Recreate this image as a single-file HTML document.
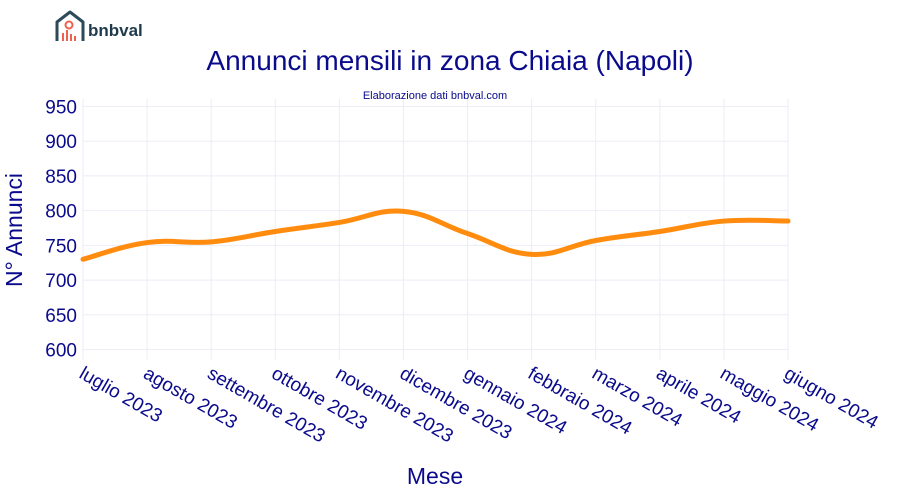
<!DOCTYPE html>
<html><head><meta charset="utf-8"><style>
body{margin:0;background:#fff;font-family:"Liberation Sans",Arial,sans-serif}
svg{display:block}
</style></head><body>
<svg id="chart" width="900" height="500" xmlns="http://www.w3.org/2000/svg">
<g>
<path d="M57 41 V22 L70 12 L83 22 V41" fill="none" stroke="#2d4a5a" stroke-width="3" stroke-linejoin="round"/>
<circle cx="69" cy="25" r="3.5" fill="none" stroke="#f0614d" stroke-width="2"/>
<rect x="62" y="33" width="2" height="8" fill="#f0614d"/><rect x="66" y="30" width="2" height="11" fill="#f0614d"/>
<rect x="70" y="34" width="2" height="7" fill="#f0614d"/><rect x="74" y="36" width="2" height="5" fill="#f0614d"/>
<text x="88" y="36" font-size="17" font-weight="bold" fill="#1f3a4a">bnbval</text>
</g>
<text x="450" y="70" text-anchor="middle" font-size="28" fill="#0a0a8c">Annunci mensili in zona Chiaia (Napoli)</text>
<text x="435" y="99" text-anchor="middle" font-size="11" fill="#0a0a8c">Elaborazione dati bnbval.com</text>
<g id="grid"></g><g id="yt"></g><g id="xt"></g>
<path id="line" fill="none" stroke="#ff8c0f" stroke-width="5" stroke-linecap="round"/>
<text transform="translate(22,230) rotate(-90)" text-anchor="middle" font-size="23" fill="#0a0a8c">N° Annunci</text>
<text x="435" y="484" text-anchor="middle" font-size="23" fill="#0a0a8c">Mese</text>
</svg>
<script>
const categories=["luglio 2023","agosto 2023","settembre 2023","ottobre 2023","novembre 2023","dicembre 2023","gennaio 2024","febbraio 2024","marzo 2024","aprile 2024","maggio 2024","giugno 2024"];
const values=[730,754,755,770,783,799,767,737,757,770,785,785];
const yTicks=[600,650,700,750,800,850,900,950];
const NS="http://www.w3.org/2000/svg";
const x0=83,x1=788,yTop=106.5,yMax=950,yMin=600,yBot=349.5;
const xs=i=>x0+i*(x1-x0)/(categories.length-1);
const ys=v=>yTop+(yMax-v)*(yBot-yTop)/(yMax-yMin);
function mk(t,a,p){const e=document.createElementNS(NS,t);for(const k in a)e.setAttribute(k,a[k]);p.appendChild(e);return e;}
const grid=document.getElementById('grid'),yt=document.getElementById('yt'),xt=document.getElementById('xt');
yTicks.forEach(v=>{
 const l=mk('line',{x1:x0,x2:x1,y1:ys(v),y2:ys(v),stroke:'#ebedf7','stroke-width':1},grid);
 
 
 const t=mk('text',{x:77,y:ys(v)+7,'text-anchor':'end','font-size':19,fill:'#0a0a8c'},yt);
 t.textContent=v;
 
 
});
categories.forEach((c,i)=>{
 const x=xs(i);
 const l=mk('line',{x1:x,x2:x,y1:99,y2:yBot+10,stroke:'#ebedf7','stroke-width':1},grid);
 
 
 const t=mk('text',{transform:`translate(${x-5},${377}) rotate(30)`,'font-size':19,fill:'#0a0a8c'},xt);
 t.textContent=c;
 
 
});
const P=values.map((v,i)=>[xs(i),ys(v)]);
let d=`M${P[0][0]},${P[0][1]}`;const s=0.2;
for(let i=0;i<P.length-1;i++){
 const p0=P[Math.max(0,i-1)],p1=P[i],p2=P[i+1],p3=P[Math.min(P.length-1,i+2)];
 const c1=[p1[0]+(p2[0]-p0[0])*s,p1[1]+(p2[1]-p0[1])*s];
 const c2=[p2[0]-(p3[0]-p1[0])*s,p2[1]-(p3[1]-p1[1])*s];
 d+=` C${c1[0]},${c1[1]} ${c2[0]},${c2[1]} ${p2[0]},${p2[1]}`;
}
document.getElementById('line').setAttribute('d',d);
</script>
</body></html>
